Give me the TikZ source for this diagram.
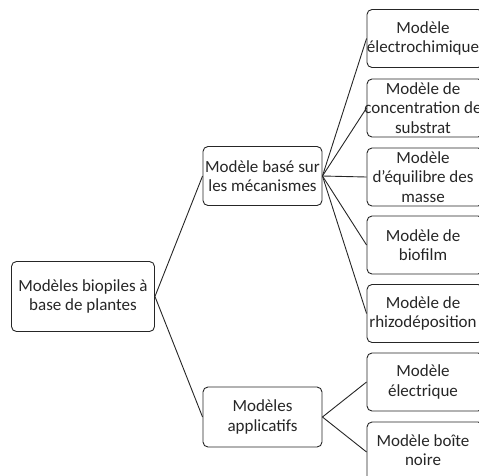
\documentclass[tikz,border=0pt]{standalone}
\usepackage{fontspec}
\setmainfont{Carlito}
\begin{document}
\begin{tikzpicture}[x=1pt,y=-1pt,
  box/.style={draw=black!85, line width=0.9pt, rounded corners=5pt, inner sep=0pt, anchor=center},
  lbl/.style={align=center, inner sep=0pt, text=black!85, font=\fontsize{17}{19.5}\selectfont},
  conn/.style={draw=black!85, line width=0.9pt}]
\useasboundingbox (0,0) rectangle (479,475);
% root
\node[box, minimum width=143pt, minimum height=70pt] (root) at (83,296.5) {};
\node[lbl] (rootT) at (root) {Modèles biopiles à\\base de plantes};
% middle
\node[box, minimum width=119pt, minimum height=59pt] (m1) at (262.5,176) {};
\node[lbl] (m1T) at (m1) {Modèle basé sur\\les mécanismes};
\node[box, minimum width=119pt, minimum height=60pt] (m2) at (262.5,417) {};
\node[lbl] (m2T) at (m2) {Modèles\\applicatifs};
% right
\foreach \n/\y/\t in {r1/38.5/{Modèle\\électrochimique},
                      r2/108/{Modèle de\\concentration de\\substrat},
                      r3/177/{Modèle\\d’équilibre des\\masse},
                      r4/245/{Modèle de\\biofilm},
                      r5/313.5/{Modèle de\\rhizodéposition},
                      r6/382/{Modèle\\électrique}}{
  \node[box, minimum width=116pt, minimum height=58pt] (\n) at (425,\y) {};
  \node[lbl] (\n T) at (423,\y) {\t};
}
\node[box, minimum width=116pt, minimum height=60pt] (r7) at (425,452) {};
\node[lbl] (r7T) at (423,450) {Modèle boîte\\noire};
% connectors
\draw[conn] (root.east) -- (m1.west);
\draw[conn] (root.east) -- (m2.west);
\foreach \n in {r1,r2,r3,r4,r5}{\draw[conn] (m1.east) -- (\n.west);}
\foreach \n in {r6,r7}{\draw[conn] (m2.east) -- (\n.west);}
\end{tikzpicture}
\end{document}
